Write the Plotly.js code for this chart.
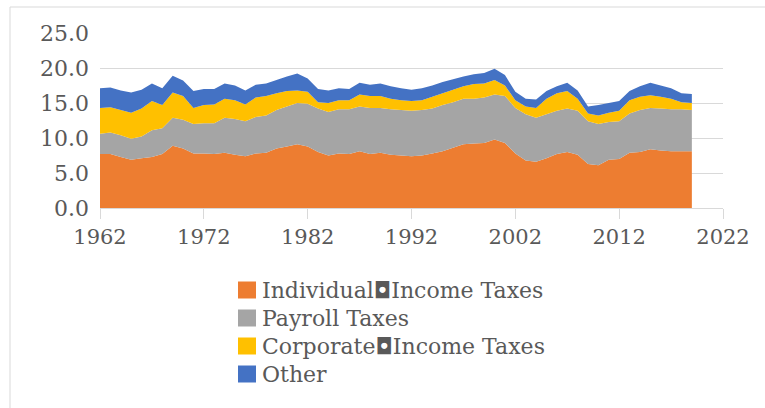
<!DOCTYPE html>
<html>
<head>
<meta charset="utf-8">
<script src="https://cdn.plot.ly/plotly-3.0.1.min.js"></script>
<style>
html,body{margin:0;padding:0;background:#ffffff;}
#chart{width:765px;height:408px;}
</style>
</head>
<body>
<div id="chart"></div>
<script>
const years = [1962,1963,1964,1965,1966,1967,1968,1969,1970,1971,1972,1973,1974,1975,1976,1977,1978,1979,1980,1981,1982,1983,1984,1985,1986,1987,1988,1989,1990,1991,1992,1993,1994,1995,1996,1997,1998,1999,2000,2001,2002,2003,2004,2005,2006,2007,2008,2009,2010,2011,2012,2013,2014,2015,2016,2017,2018,2019];
const individual = [7.7,7.7,7.3,6.9,7.1,7.3,7.7,8.9,8.5,7.8,7.8,7.7,7.9,7.6,7.4,7.8,7.9,8.5,8.8,9.1,8.8,8.0,7.5,7.8,7.7,8.1,7.7,7.9,7.6,7.5,7.4,7.5,7.8,8.1,8.6,9.1,9.2,9.3,9.8,9.3,7.8,6.8,6.6,7.1,7.7,8.0,7.6,6.3,6.1,6.9,7.0,7.9,8.0,8.4,8.2,8.1,8.1,8.1];
const payroll = [2.9,3.1,3.1,3.0,3.1,3.8,3.7,4.0,4.1,4.2,4.3,4.4,5.0,5.1,5.0,5.2,5.3,5.5,5.7,5.9,6.1,6.2,6.2,6.3,6.4,6.4,6.6,6.4,6.5,6.5,6.5,6.5,6.4,6.6,6.5,6.5,6.4,6.5,6.4,6.7,6.5,6.6,6.3,6.3,6.2,6.2,6.3,6.1,5.9,5.4,5.4,5.6,6.0,5.9,6.0,6.0,6.0,5.9];
const corporate = [3.7,3.6,3.6,3.7,4.0,4.2,3.3,3.6,3.4,2.3,2.6,2.7,2.7,2.7,2.4,2.8,2.8,2.4,2.2,1.8,1.7,0.9,1.3,1.3,1.3,1.7,1.7,1.7,1.5,1.4,1.4,1.4,1.7,1.7,1.8,1.8,2.1,2.0,2.1,1.5,1.1,1.1,1.4,2.2,2.5,2.5,1.7,1.1,1.2,1.3,1.5,1.9,1.9,1.8,1.7,1.5,1.0,1.0];
const other = [2.8,2.8,2.8,2.9,2.7,2.5,2.4,2.4,2.2,2.4,2.3,2.2,2.2,2.1,2.0,1.8,1.8,1.9,2.1,2.4,1.9,1.9,1.8,1.7,1.6,1.7,1.6,1.8,1.8,1.7,1.6,1.7,1.6,1.6,1.5,1.4,1.4,1.5,1.6,1.5,1.2,1.1,1.2,1.1,1.0,1.2,1.2,1.0,1.5,1.4,1.4,1.3,1.5,1.8,1.6,1.5,1.3,1.3];

const seriesNames = ["Individual\u25D8Income Taxes","Payroll Taxes","Corporate\u25D8Income Taxes","Other"];
const seriesColors = ["#ED7D31","#A5A5A5","#FFC000","#4472C4"];
const xTickVals = [1962,1972,1982,1992,2002,2012,2022];
const yTickVals = [0,5,10,15,20,25];
const yTickText = ["0.0","5.0","10.0","15.0","20.0","25.0"];

const W = 765, H = 408;
const M = {l:100, r:42, t:33, b:200};
const PW = W - M.l - M.r, PH = H - M.t - M.b;
const toPX = x => (x - M.l) / PW;
const toPY = y => 1 - (y - M.t) / PH;

const seriesValues = [individual, payroll, corporate, other];
const traces = seriesValues.map((vals, i) => ({
  type: 'scatter',
  x: years,
  y: vals,
  name: seriesNames[i],
  stackgroup: 'one',
  mode: 'none',
  fillcolor: seriesColors[i],
  line: {width: 0},
  showlegend: false,
  hoverinfo: 'x+y+name'
}));

const textColor = '#595959';
const fontFam = 'DejaVu Serif, Liberation Serif, serif';

const shapes = [{
  type: 'rect', xref: 'paper', yref: 'paper',
  x0: toPX(10), x1: toPX(900), y0: toPY(7), y1: toPY(600),
  line: {color: '#d9d9d9', width: 1}, fillcolor: 'rgba(0,0,0,0)', layer: 'below'
}];
const annotations = [];
const rowY = [290, 318, 346, 374];
seriesNames.forEach((nm, i) => {
  shapes.push({
    type: 'rect', xref: 'paper', yref: 'paper',
    x0: toPX(238), x1: toPX(256), y0: toPY(rowY[i] - 8.5), y1: toPY(rowY[i] + 8.5),
    line: {width: 0}, fillcolor: seriesColors[i]
  });
  annotations.push({
    xref: 'paper', yref: 'paper', x: toPX(260), y: toPY(rowY[i]),
    xanchor: 'left', yanchor: 'middle', showarrow: false,
    text: nm, font: {family: fontFam, size: 22, color: textColor}
  });
});

const layout = {
  width: W, height: H,
  margin: M,
  paper_bgcolor: '#ffffff', plot_bgcolor: '#ffffff',
  showlegend: false,
  xaxis: {
    range: [1962, 2022], tickvals: xTickVals, ticktext: xTickVals.map(String),
    ticks: 'outside', ticklen: 10, tickcolor: '#d9d9d9', tickwidth: 1,
    showline: true, linecolor: '#d9d9d9', linewidth: 1,
    showgrid: false, zeroline: false,
    tickfont: {family: fontFam, size: 21, color: textColor}
  },
  yaxis: {
    range: [0, 25], tickvals: yTickVals, ticktext: yTickText,
    showgrid: true, gridcolor: '#d9d9d9', gridwidth: 1,
    zeroline: false, showline: false, ticks: '',
    ticklabelstandoff: 10,
    tickfont: {family: fontFam, size: 22, color: textColor}
  },
  shapes: shapes,
  annotations: annotations
};

Plotly.newPlot('chart', traces, layout, {displayModeBar: false, staticPlot: true});
</script>
</body>
</html>
